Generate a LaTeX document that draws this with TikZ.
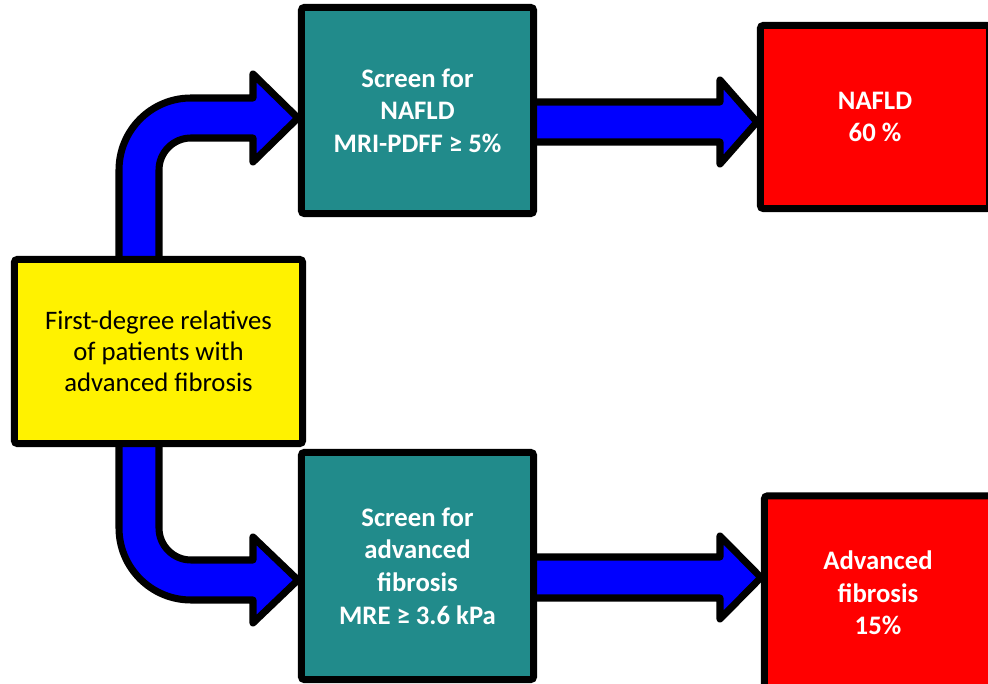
\documentclass[tikz,border=0pt]{standalone}
\usepackage{fontspec}
\setmainfont{Carlito}
\usetikzlibrary{backgrounds,shadows}

\definecolor{screenteal}{RGB}{33,139,139}

\tikzset{
  box/.style={draw=black, line width=5pt, rounded corners=2pt, align=center, inner sep=0pt,
    drop shadow={shadow xshift=1.5pt, shadow yshift=-1.5pt, opacity=0.25}},
  startbox/.style={box, fill=yellow, font=\fontsize{19}{22}\selectfont},
  screenbox/.style={box, fill=screenteal, text=white, font=\bfseries\fontsize{19}{23.2}\selectfont},
  resultbox/.style={box, fill=red, text=white, font=\bfseries\fontsize{19}{23.2}\selectfont},
  blockarrow/.style={draw=black, fill=blue, line width=5pt, line join=round,
    drop shadow={shadow xshift=1.5pt, shadow yshift=-1.5pt, opacity=0.25}}
}

\begin{document}
\begin{tikzpicture}[x=0.025cm, y=0.025cm]
\useasboundingbox (0,0) rectangle (988,684);

\node[startbox, minimum width=7.2cm, minimum height=4.6cm] (rel) at (158.5,332.5) {First-degree relatives\\of patients with\\advanced fibrosis};

\node[screenbox, minimum width=5.8cm, minimum height=5.15cm] (nafld) at (417.5,573.5) {Screen for\\NAFLD\\MRI-PDFF ≥ 5\%};
\node[screenbox, minimum width=5.8cm, minimum height=5.675cm] (fib) at (417.5,118) {Screen for\\advanced\\fibrosis\\MRE ≥ 3.6 kPa};

\node[resultbox, minimum width=5.725cm, minimum height=4.575cm] (nafldres) at (875,567) {NAFLD\\60 \%};
\node[resultbox, minimum width=5.675cm, minimum height=4.85cm] (fibres) at (878,91) {Advanced\\fibrosis\\15\%};

\begin{scope}[on background layer]
% bent arrows out of the relatives box
\draw[blockarrow] (119,0 |- rel.center) -- (119,514) arc[start angle=180, end angle=90, radius=72]
  -- (253,586) -- (253,610) -- (nafld.west |- 0,566) -- (253,522) -- (253,546)
  -- (191,546) arc[start angle=90, end angle=180, radius=32] -- (159,0 |- rel.center) -- cycle;
\draw[blockarrow] (119,0 |- rel.center) -- (119,156) arc[start angle=180, end angle=270, radius=72]
  -- (253,84) -- (253,61) -- (fib.west |- 0,104) -- (253,147) -- (253,124)
  -- (191,124) arc[start angle=270, end angle=180, radius=32] -- (159,0 |- rel.center) -- cycle;

% straight arrows to the results
\draw[blockarrow] (nafld.center |- 0,582) -- (720,582) -- (720,604) -- (nafldres.west |- 0,562)
  -- (720,520) -- (720,542) -- (nafld.center |- 0,542) -- cycle;
\draw[blockarrow] (fib.center |- 0,127) -- (720,127) -- (720,148) -- (fibres.west |- 0,106.5)
  -- (720,65) -- (720,86) -- (fib.center |- 0,86) -- cycle;
\end{scope}

\end{tikzpicture}
\end{document}
